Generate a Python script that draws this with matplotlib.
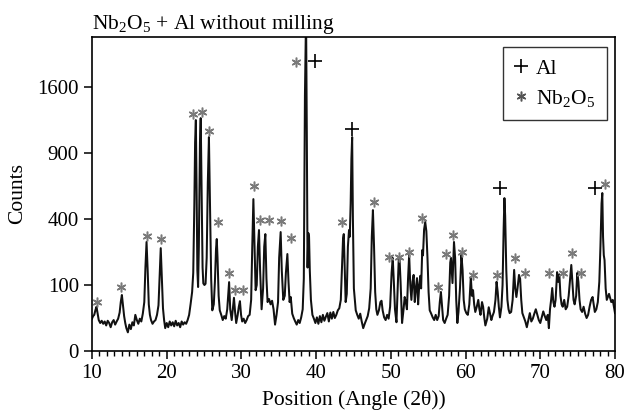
import numpy as np
import matplotlib
matplotlib.use("Agg")
import matplotlib.pyplot as plt
from matplotlib.lines import Line2D

# ---------------- data ----------------
two_theta = [
    10.0, 10.15, 10.3, 10.45, 10.6, 10.75, 10.9, 11.1, 11.3, 11.5,
    11.7, 11.9, 12.1, 12.3, 12.5, 12.7, 12.9, 13.1, 13.3, 13.5,
    13.7, 13.85, 14.0, 14.15, 14.3, 14.45,
    14.6, 14.8, 15.0, 15.2, 15.4, 15.6, 15.8, 16.0, 16.2, 16.4, 16.6, 16.8,
    17.0, 17.15, 17.3, 17.45, 17.6, 17.75, 17.9, 18.1, 18.3, 18.5, 18.7,
    18.9, 19.05, 19.2, 19.35, 19.5, 19.65, 19.8,
    20.0, 20.2, 20.4, 20.6, 20.8, 21.0, 21.2, 21.4, 21.6, 21.8, 22.0, 22.2, 22.4, 22.6, 22.8,
    23.0, 23.2, 23.4, 23.55, 23.7, 23.8, 23.9, 24.0, 24.1, 24.2, 24.3, 24.45, 24.55, 24.65,
    24.8, 24.9, 25.05, 25.2, 25.35, 25.5, 25.65, 25.8, 25.95, 26.1,
    26.3, 26.45, 26.6, 26.7, 26.8, 26.95, 27.1, 27.3, 27.5, 27.7, 27.9, 28.1,
    28.25, 28.35, 28.5, 28.7, 28.85, 29.0, 29.15, 29.3, 29.5, 29.65, 29.8, 29.95, 30.1, 30.3, 30.5, 30.7,
    30.9, 31.1, 31.3, 31.45, 31.6, 31.75, 31.9, 32.05, 32.2, 32.35, 32.5, 32.7, 32.9, 33.05, 33.2, 33.35, 33.5,
    33.7, 33.9, 34.1, 34.3, 34.5, 34.7, 34.9, 35.05, 35.25, 35.4, 35.6, 35.8, 35.95, 36.15, 36.3, 36.45, 36.6, 36.8, 37.0,
    37.2, 37.4, 37.6, 37.8, 38.0, 38.2, 38.35, 38.5, 38.65, 38.75, 38.85, 38.95, 39.05, 39.15, 39.3, 39.5,
    39.7, 39.9, 40.1, 40.3, 40.5, 40.7, 40.9, 41.1, 41.3, 41.5, 41.7, 41.9, 42.1, 42.3, 42.5, 42.7, 42.9, 43.1,
    43.3, 43.45, 43.6, 43.7, 43.8, 43.95, 44.1, 44.25, 44.4, 44.5, 44.62, 44.72, 44.82, 44.92, 45.05, 45.3,
    45.5, 45.7, 45.9, 46.1, 46.3, 46.5, 46.7, 46.9, 47.1,
    47.3, 47.45, 47.6, 47.75, 47.9, 48.05, 48.2, 48.4, 48.6, 48.75, 48.9, 49.1, 49.3, 49.5, 49.7, 49.9,
    50.1, 50.25, 50.4, 50.55, 50.75, 50.9, 51.05, 51.15, 51.3, 51.5, 51.7, 51.85, 52.0, 52.15,
    52.3, 52.45, 52.6, 52.75, 52.9, 53.05, 53.2, 53.35, 53.5, 53.65, 53.8, 53.95, 54.05, 54.2, 54.3,
    54.45, 54.6, 54.75, 54.9, 55.05, 55.2,
    55.4, 55.6, 55.8, 56.0, 56.2, 56.4, 56.55, 56.7, 56.85, 57.0, 57.2, 57.4, 57.6,
    57.8, 57.95, 58.05, 58.15, 58.25, 58.35, 58.45, 58.6, 58.75, 58.9, 59.05, 59.25, 59.45, 59.6,
    59.75, 59.9, 60.1, 60.3, 60.5,
    60.7, 60.85, 61.0, 61.15, 61.3, 61.5, 61.7, 61.85, 62.0, 62.2, 62.35, 62.5, 62.65, 62.9, 63.1,
    63.3, 63.45, 63.6, 63.8, 64.0,
    64.15, 64.3, 64.45, 64.6, 64.8, 64.95, 65.1, 65.2, 65.3, 65.45, 65.6, 65.75, 65.9, 66.1, 66.3,
    66.5, 66.65, 66.8, 66.95, 67.15, 67.3, 67.45, 67.6, 67.8, 68.0, 68.2, 68.4, 68.6, 68.8, 69.0,
    69.2, 69.4, 69.6, 69.8, 70.0, 70.2, 70.4, 70.6, 70.8, 71.0, 71.15, 71.3, 71.45,
    71.6, 71.75, 71.9, 72.05, 72.25, 72.4, 72.55, 72.7, 72.85, 73.0, 73.2, 73.4, 73.6,
    73.8, 74.0, 74.15, 74.3, 74.45, 74.6, 74.8, 74.95, 75.1, 75.25, 75.4, 75.6, 75.8, 76.0, 76.2, 76.4,
    76.6, 76.8, 77.0, 77.15, 77.3, 77.5, 77.7, 77.9, 78.05, 78.2, 78.3, 78.4, 78.5, 78.6, 78.75,
    78.9, 79.05, 79.2, 79.35, 79.5, 79.7, 79.85, 80.0,
]
counts = [
    24, 28, 30, 38, 45, 32, 22, 18, 21, 17,
    20, 15, 21, 18, 13, 19, 22, 16, 20, 24,
    34, 55, 72, 48, 28, 18,
    12, 8, 16, 11, 19, 15, 30, 22, 17, 24, 20, 32,
    55, 160, 273, 150, 50, 30, 22, 17, 20, 22, 30,
    48, 130, 243, 125, 42, 22, 12,
    18, 13, 20, 15, 19, 14, 21, 15, 18, 13, 20, 16, 19, 17, 22,
    30, 51, 80, 140, 500, 1000, 1225, 600, 150, 94, 250, 1000, 1246, 700,
    160, 105, 100, 104, 200, 650, 1051, 450, 120, 38,
    50, 110, 240, 288, 200, 70, 38, 30, 22, 28, 24, 40,
    80, 109, 40, 22, 40, 65, 35, 18, 30, 45, 57, 30, 20, 24, 18, 22,
    28, 30, 60, 250, 530, 250, 85, 100, 250, 336, 150, 40, 90, 250, 314, 120, 55,
    62, 50, 58, 40, 16, 30, 55, 200, 325, 150, 60, 70, 140, 216, 110, 55, 67, 32, 25,
    20, 16, 22, 18, 26, 40, 120, 1500, 2600, 1100, 160, 320, 300, 150, 60, 30,
    24, 18, 26, 17, 28, 19, 30, 21, 27, 33, 20, 34, 24, 35, 25, 30, 38, 42,
    60, 150, 290, 314, 180, 55, 75, 250, 336, 300, 500, 850, 1051, 400, 90, 38,
    30, 24, 32, 20, 12, 17, 22, 28, 42,
    90, 300, 456, 250, 80, 40, 30, 38, 55, 58, 38, 26, 22, 30, 24, 45,
    140, 199, 110, 40, 19, 80, 190, 203, 110, 18, 40, 67, 55, 40,
    120, 212, 100, 60, 110, 133, 55, 90, 122, 50, 100, 130, 90, 234, 210,
    340, 382, 330, 200, 80, 38,
    32, 26, 22, 30, 22, 28, 55, 80, 45, 22, 18, 24, 30,
    70, 180, 199, 150, 106, 180, 273, 200, 60, 18, 35, 90, 211, 150,
    60, 40, 33, 30, 50,
    126, 70, 85, 50, 35, 45, 60, 40, 30, 55, 45, 26, 15, 24, 44,
    30, 22, 28, 35, 60,
    110, 80, 45, 26, 45, 100, 350, 537, 420, 150, 60, 40, 33, 35, 60,
    151, 90, 67, 90, 133, 120, 60, 33, 26, 20, 13, 22, 33, 20, 24,
    32, 40, 30, 22, 18, 26, 36, 28, 22, 30, 12, 40, 60,
    91, 55, 45, 60, 143, 110, 135, 70, 50, 45, 60, 40, 45,
    70, 120, 170, 110, 60, 50, 70, 140, 110, 60, 40, 35, 45, 32, 25, 30,
    45, 60, 67, 50, 35, 40, 55, 110, 250, 500, 573, 300, 211, 190, 90,
    60, 67, 75, 65, 55, 60, 45, 33,
]

# phase markers (position of the symbol above each reflection)
nb_mark_theta = [10.63, 13.88, 17.36, 19.24, 23.52, 24.73, 25.66, 26.87, 28.34, 29.14,
                 30.21, 31.69, 32.49, 33.69, 35.30, 36.64, 37.31, 43.47, 47.75, 49.76,
                 51.10, 52.44, 54.18, 56.32, 57.39, 58.33, 59.53, 61.0, 64.22, 66.63,
                 67.97, 71.18, 73.05, 74.26, 75.46, 78.67]
nb_mark_counts = [56, 94, 303, 288, 1289, 1311, 1111, 382, 140, 85,
                  85, 625, 394, 394, 388, 293, 1917, 382, 510, 203,
                  203, 225, 406, 94, 216, 309, 225, 133, 133, 199,
                  140, 140, 140, 220, 140, 640]
al_mark_theta = [39.85, 44.81, 64.62, 77.34]
al_mark_counts = [1931, 1131, 610, 610]

x_ticks = [10, 20, 30, 40, 50, 60, 70, 80]
y_ticks = [0, 100, 400, 900, 1600]

assert len(two_theta) == len(counts), (len(two_theta), len(counts))

# ---------------- style ----------------
plt.rcParams['font.family'] = ['Liberation Serif', 'DejaVu Serif']
plt.rcParams['mathtext.fontset'] = 'custom'
plt.rcParams['mathtext.rm'] = 'Liberation Serif'
plt.rcParams['mathtext.it'] = 'Liberation Serif:italic'
plt.rcParams['mathtext.bf'] = 'Liberation Serif:bold'
FS = 15.5
TFS = 15

fig = plt.figure(figsize=(6.24, 4.16), dpi=100)
ax = fig.add_axes([92/624, 1-351/416, (615-92)/624, (351-37)/416])

def fwd(v):
    return np.sqrt(np.clip(v, 0, None))

def inv(v):
    return np.square(v)

ax.set_yscale('function', functions=(fwd, inv))
ax.plot(two_theta, counts, color='#111111', lw=1.45, solid_joinstyle='round')

ax.plot(nb_mark_theta, nb_mark_counts, ls='none', marker=(6, 2, 0), ms=7,
        mec='#7a7a7a', mew=1.1, color='#7a7a7a')
ax.plot(al_mark_theta, al_mark_counts, ls='none', marker='+', ms=9.5,
        mec='black', mew=1.2, color='black')

ax.set_xlim(10, 80)
ax.set_ylim(0, 2265)
ax.set_xticks(x_ticks)
ax.set_xticks(np.arange(10, 81, 1), minor=True)
ax.set_yticks(y_ticks)
ax.set_yticklabels([str(v) for v in y_ticks])
ax.tick_params(axis='both', which='major', direction='out', length=6, width=1.1,
               labelsize=TFS, colors='black')
ax.tick_params(axis='x', which='minor', direction='out', length=3.5, width=1.0)
ax.tick_params(axis='y', which='minor', left=False)
for s in ax.spines.values():
    s.set_linewidth(1.2)
    s.set_color('black')

ax.set_xlabel('Position (Angle (2θ))', fontsize=FS, labelpad=5)
ax.set_ylabel('Counts', fontsize=FS, labelpad=7)
ax.set_title('Nb$_2$O$_5$ + Al without milling', loc='left', fontsize=FS, pad=6)

handles = [
    Line2D([], [], ls='none', marker='+', ms=9.5, mew=1.2, color='black', label='Al'),
    Line2D([], [], ls='none', marker=(6, 2, 0), ms=7, mew=1.1, color='#555555',
           label='Nb$_2$O$_5$'),
]
leg = ax.legend(handles=handles, loc='upper right', bbox_to_anchor=(0.985, 0.968),
                fontsize=FS, frameon=True, fancybox=False, edgecolor='black',
                handlelength=0.6, handletextpad=0.4, borderpad=0.55,
                labelspacing=0.4, borderaxespad=0.0)
leg.get_frame().set_linewidth(1.0)

fig.savefig('out.png', dpi=100)
